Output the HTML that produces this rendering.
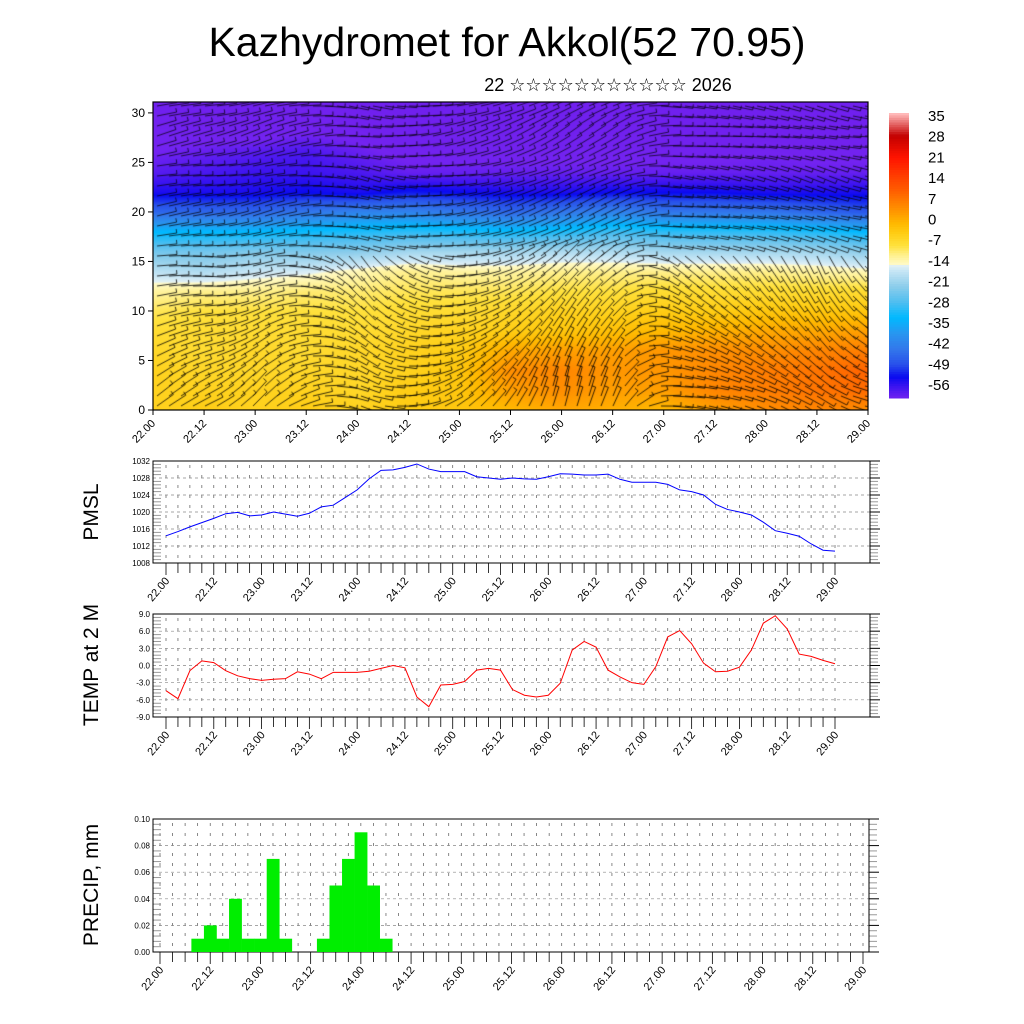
<!DOCTYPE html>
<html><head><meta charset="utf-8"><style>
body{margin:0;background:#fff;font-family:"Liberation Sans","DejaVu Sans",sans-serif;}
#wrap{position:relative;width:1024px;height:1024px;overflow:hidden;}
#heat{position:absolute;left:153px;top:102px;}
svg{position:absolute;left:0;top:0;}
</style></head><body>
<div id="wrap">
<canvas id="heat" width="715" height="308"></canvas>
<svg id="s" width="1024" height="1024"></svg>
</div>
<script>
const timeLabels=["22.00","22.12","23.00","23.12","24.00","24.12","25.00","25.12","26.00","26.12","27.00","27.12","28.00","28.12","29.00"];
const heights=[0,2,4,6,8,10,12,14,16,18,20,22,24,26,28,30];
const tempGrid=[
[-4,-3,-4,-3,-4,-3,-2,0,2,1,0,3,5,6,5],
[-4,-4,-4,-4,-5,-3,-2,3,5,3,3,6,7,8,9],
[-4,-5,-5,-5,-5,-4,-2,5,6,4,4,6,7,8,10],
[-5,-6,-5,-6,-5,-4,-3,2,3,3,4,5,5,6,7],
[-6,-6,-6,-6,-6,-5,-4,-3,-2,-1,0,1,2,2,3],
[-8,-7,-7,-7,-7,-6,-6,-5,-4,-4,-3,-3,-2,-2,-2],
[-11,-10,-10,-9,-9,-8,-8,-8,-7,-7,-6,-6,-6,-6,-6],
[-16,-17,-15,-14,-12,-10,-11,-11,-10,-10,-10,-10,-10,-11,-12],
[-22,-22,-21,-21,-20,-18,-18,-18,-17,-17,-18,-18,-18,-18,-20],
[-30,-30,-30,-29,-28,-27,-28,-29,-28,-26,-27,-27,-27,-28,-30],
[-42,-42,-42,-40,-38,-38,-40,-42,-40,-38,-40,-40,-40,-42,-44],
[-50,-50,-50,-49,-50,-48,-49,-50,-50,-49,-49,-49,-50,-50,-50],
[-54,-53,-52,-52,-53,-55,-55,-55,-55,-55,-55,-55,-55,-55,-55],
[-56,-55,-54,-53,-55,-57,-57,-57,-57,-57,-57,-57,-56,-57,-57],
[-57,-57,-57,-56,-57,-58,-58,-58,-58,-58,-58,-58,-58,-58,-58],
[-58,-58,-58,-57,-58,-58,-58,-58,-58,-58,-58,-58,-58,-58,-58]];
const windRowAngle=[-35,-40,-30,-25,-20,-15,-10,-5,-5,-10,-15,-10,-5,-15,-20,-10];
const windColShift=[0,10,-10,20,60,30,0,-20,-40,-30,40,50,60,70,50];
const colorbarLabels=["35","28","21","14","7","0","-7","-14","-21","-28","-35","-42","-49","-56"];
const pmsl=[1014.4,1015.4,1016.5,1017.5,1018.5,1019.6,1019.9,1019.1,1019.3,1020.0,1019.5,1019.0,1019.7,1021.2,1021.6,1023.4,1025.2,1027.8,1029.8,1029.9,1030.5,1031.3,1030.1,1029.5,1029.5,1029.5,1028.3,1028.0,1027.7,1028.0,1027.8,1027.7,1028.3,1029.0,1028.9,1028.7,1028.7,1028.9,1027.7,1027.0,1027.0,1027.0,1026.5,1025.2,1024.8,1024.0,1021.8,1020.6,1020.0,1019.3,1017.6,1015.6,1015.0,1014.3,1012.5,1011.0,1010.8];
const t2m=[-4.4,-5.8,-0.9,0.8,0.5,-0.9,-1.8,-2.3,-2.6,-2.4,-2.3,-1.1,-1.5,-2.3,-1.2,-1.2,-1.2,-1.0,-0.5,0.0,-0.4,-5.5,-7.2,-3.4,-3.3,-2.8,-0.8,-0.5,-0.8,-4.2,-5.2,-5.5,-5.2,-3.1,2.7,4.2,3.2,-0.8,-2.0,-3.0,-3.3,-0.2,5.0,6.1,3.8,0.4,-1.1,-1.0,-0.3,2.7,7.4,8.7,6.4,2.0,1.6,0.9,0.3];
const precip=[0,0,0,0.01,0.02,0.01,0.04,0.01,0.01,0.07,0.01,0,0,0.01,0.05,0.07,0.09,0.05,0.01,0,0,0,0,0,0,0,0,0,0,0,0,0,0,0,0,0,0,0,0,0,0,0,0,0,0,0,0,0,0,0,0,0,0,0,0,0,0];
const pmslTicks=[1008,1012,1016,1020,1024,1028,1032];
const tempTicks=[-9,-6,-3,0,3,6,9];
const precipTicks=[0,0.02,0.04,0.06,0.08,0.10];

const NS="http://www.w3.org/2000/svg";
const svg=document.getElementById('s');
function mk(tag,attrs,parent){const e=document.createElementNS(NS,tag);for(const k in attrs)e.setAttribute(k,attrs[k]);(parent||svg).appendChild(e);return e;}
function txt(str,attrs,parent){const e=mk('text',attrs,parent);e.textContent=str;return e;}

const cstops=[[-60,[110,30,235]],[-56,[115,35,240]],[-52,[60,20,240]],[-49,[10,10,240]],[-45,[40,80,235]],[-40,[50,120,235]],[-35,[40,150,240]],[-30,[0,185,255]],[-25,[80,190,240]],[-20,[140,205,235]],[-15,[200,230,245]],[-13.5,[225,240,245]],[-13,[255,250,200]],[-10,[255,240,140]],[-7,[255,225,60]],[-3,[255,205,20]],[0,[255,185,0]],[4,[255,150,0]],[7,[255,125,0]],[11,[255,90,0]],[14,[255,70,0]],[21,[255,20,0]],[28,[195,0,0]],[35,[255,185,185]]];
function cmap(v){if(v<=cstops[0][0])return cstops[0][1];for(let i=1;i<cstops.length;i++){if(v<=cstops[i][0]){const a=cstops[i-1],b=cstops[i];const f=(v-a[0])/(b[0]-a[0]);return a[1].map((c,j)=>c+(b[1][j]-c)*f);}}return cstops[cstops.length-1][1];}

const TX0=153,TX1=868,TY0=102,TY1=410,HMAX=31.1;
const tx=i=>TX0+(TX1-TX0)*i/(timeLabels.length-1);
const ty=h=>TY1-(TY1-TY0)*h/HMAX;
const cv=document.getElementById('heat');const ctx=cv.getContext('2d');
const W=cv.width,H=cv.height;const img=ctx.createImageData(W,H);
function sample(grid,fx,fy){const nx=grid[0].length-1,ny=grid.length-1;fx=Math.max(0,Math.min(nx,fx));fy=Math.max(0,Math.min(ny,fy));const x0=Math.min(nx-1,Math.floor(fx)),y0=Math.min(ny-1,Math.floor(fy));const ax=fx-x0,ay=fy-y0;return grid[y0][x0]*(1-ax)*(1-ay)+grid[y0][x0+1]*ax*(1-ay)+grid[y0+1][x0]*(1-ax)*ay+grid[y0+1][x0+1]*ax*ay;}
for(let py=0;py<H;py++){const h=(H-py)/H*HMAX;const fy=h/2;for(let px=0;px<W;px++){const fx=px/W*(timeLabels.length-1);const c=cmap(sample(tempGrid,fx,fy));const k=(py*W+px)*4;img.data[k]=c[0];img.data[k+1]=c[1];img.data[k+2]=c[2];img.data[k+3]=255;}}
ctx.putImageData(img,0,0);
ctx.strokeStyle='rgba(0,0,0,0.8)';
for(let py=4;py<H;py+=10){const h=(H-py)/H*HMAX;const fy=Math.min(15,h/2);const r0=Math.floor(fy),r1=Math.min(15,r0+1),ar=fy-r0;const ra=windRowAngle[r0]*(1-ar)+windRowAngle[r1]*ar;
 for(let px=4;px<W;px+=12){const fx=px/W*(timeLabels.length-1);const c0=Math.floor(fx),c1=Math.min(14,c0+1),ac=fx-c0;const cs=windColShift[c0]*(1-ac)+windColShift[c1]*ac;const ang=(ra+cs*(h<16?1:0.4))*Math.PI/180;const L=20;
 ctx.lineWidth=(h<16?1.0:0.9);
 ctx.beginPath();ctx.moveTo(px,py);ctx.lineTo(px+L*Math.cos(ang),py+L*Math.sin(ang));ctx.lineTo(px+L*Math.cos(ang)+4*Math.sin(ang),py+L*Math.sin(ang)-4*Math.cos(ang));ctx.stroke();}}
mk('rect',{x:TX0,y:TY0,width:TX1-TX0,height:TY1-TY0,fill:'none',stroke:'#000','stroke-width':1.2,});
[0,5,10,15,20,25,30].forEach(v=>{mk('line',{x1:TX0-5,x2:TX0,y1:ty(v),y2:ty(v),stroke:'#000'});const t=txt(String(v),{x:TX0-8,y:ty(v)+4,'font-size':12,'text-anchor':'end'});});
timeLabels.forEach((l,i)=>{const x=tx(i);mk('line',{x1:x,x2:x,y1:TY1,y2:TY1+5,stroke:'#000'});const t=txt(l,{x:x+3,y:TY1+14,'font-size':11,'text-anchor':'end',transform:`rotate(-45 ${x+3} ${TY1+14})`});});
txt('Kazhydromet for Akkol(52 70.95)',{x:507,y:56,'font-size':41,'text-anchor':'middle',});
txt('22 ☆☆☆☆☆☆☆☆☆☆☆ 2026',{x:608,y:91,'font-size':18,'text-anchor':'middle',});
const CB0=113,CB1=398;
for(let i=0;i<120;i++){const v=35-(91)*i/120;const c=cmap(v);mk('rect',{x:889,y:CB0+(CB1-CB0)*i/120,width:20,height:(CB1-CB0)/120+0.5,fill:`rgb(${c.map(Math.round).join(',')})`});}
colorbarLabels.forEach((l,i)=>{const t=txt(l,{x:928,y:121+i*20.7,'font-size':15});});

function panel(name,y0,y1,xa,xb,xdata0,xdata1,ticks,fmt,label,labelY){
 const g=mk('g',{});
 const vmin=ticks[0],vmax=ticks[ticks.length-1];
 const sx=i=>xdata0+(xdata1-xdata0)*i/56;
 const sy=v=>y1-(y1-y0)*(v-vmin)/(vmax-vmin);
 for(let i=0;i<=56;i++){const x=sx(i);mk('line',{x1:x,x2:x,y1:y0+4,y2:y1,stroke:'#555','stroke-width':0.7,'stroke-dasharray':'3,7'},g);mk('line',{x1:x,x2:x,y1:y1,y2:y1+(i%4==0?12:10),stroke:'#000','stroke-width':0.8},g);}
 ticks.forEach((v,k)=>{const y=sy(v);mk('line',{x1:xa,x2:xb,y1:y,y2:y,stroke:'#888','stroke-width':0.7,'stroke-dasharray':'3,3'},g);mk('line',{x1:xb,x2:xb+10,y1:y,y2:y,stroke:'#000'},g);const t=txt(fmt(v),{x:xa-3,y:y+3,'font-size':8,'text-anchor':'end'},g);
  if(k<ticks.length-1){for(let m=1;m<5;m++){const ym=sy(v+(ticks[1]-ticks[0])*m/5);mk('line',{x1:xa,x2:xa+8,y1:ym,y2:ym,stroke:'#999'},g);mk('line',{x1:xb,x2:xb+8,y1:ym,y2:ym,stroke:'#999'},g);}}});
 mk('rect',{x:xa,y:y0,width:xb-xa,height:y1-y0,fill:'none',stroke:'#000','stroke-width':1},g);
 timeLabels.forEach((l,i)=>{const x=sx(i*4);const t=txt(l,{x:x+4,y:y1+18,'font-size':11,'text-anchor':'end',transform:`rotate(-50 ${x+4} ${y1+18})`},g);});
 const yl=txt(label,{x:98,y:labelY,'font-size':21,'text-anchor':'middle',transform:`rotate(-90 98 ${labelY})`},g);
 return {g,sx,sy};
}
const p1=panel('pmsl-panel',461,563,153,870,166,835,pmslTicks,v=>String(v),'PMSL',512);
mk('polyline',{points:pmsl.map((v,i)=>p1.sx(i)+','+p1.sy(v)).join(' '),fill:'none',stroke:'#0000ff','stroke-width':1,},p1.g);
const p2=panel('temp-panel',614,717,153,870,166,835,tempTicks,v=>v.toFixed(1),'TEMP at 2 M',665);
mk('polyline',{points:t2m.map((v,i)=>p2.sx(i)+','+p2.sy(v)).join(' '),fill:'none',stroke:'#ff0000','stroke-width':1,},p2.g);
const p3=panel('precip-panel',819,952,153,869,160,863,precipTicks,v=>v.toFixed(2),'PRECIP, mm',885);
const bw=(863-160)/56;
precip.forEach((v,i)=>{if(v<=0)return;const r=mk('rect',{x:p3.sx(i)-bw/2,y:p3.sy(v),width:bw+0.3,height:p3.sy(0)-p3.sy(v),fill:'#00ee00'},p3.g);});
</script>
</body></html>
